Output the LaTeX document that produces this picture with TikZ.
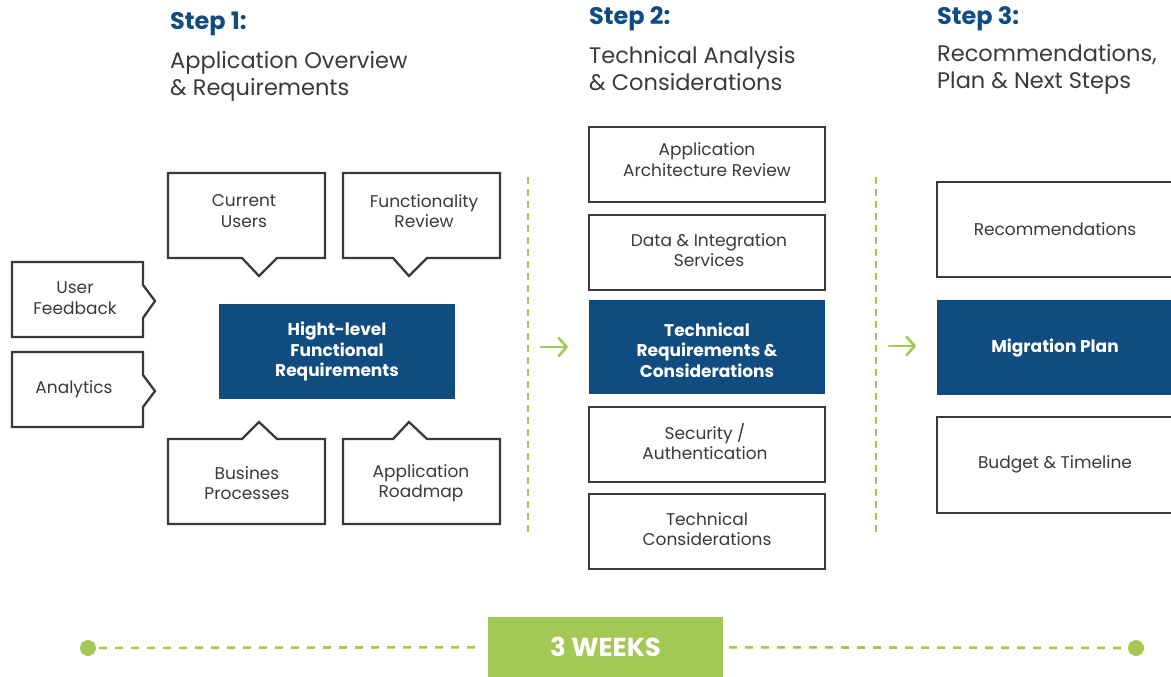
\documentclass[tikz,border=0pt]{standalone}
\usepackage{fontspec}
\setmainfont{Poppins}
\usetikzlibrary{arrows.meta}
\definecolor{navy}{HTML}{114C80}
\definecolor{lime}{HTML}{A3C854}
\definecolor{ink}{HTML}{3A3A3A}
\begin{document}
\begin{tikzpicture}[x=1pt,y=-1pt,
  txt/.style={text=ink,align=center,font=\fontsize{17}{20.5}\selectfont,inner sep=0pt},
  box/.style={draw=ink,line width=2.3pt,fill=white,minimum width=236pt,minimum height=75pt},
  bluebox/.style={fill=navy,inner sep=0pt},
  btxt/.style={text=white,align=center,font=\bfseries\fontsize{17}{20.5}\selectfont,inner sep=0pt},
  outline/.style={draw=ink,line width=2.3pt,line join=miter},
  stephead/.style={anchor=west,text=navy,font=\bfseries\fontsize{24}{28}\selectfont,inner sep=0pt},
  stepsub/.style={anchor=west,text=ink,align=left,font=\fontsize{22.5}{27}\selectfont,inner sep=0pt},
  vdash/.style={draw=lime,line width=2.6pt,dash pattern=on 7pt off 5pt},
  hdash/.style={draw=lime,line width=2.6pt,dash pattern=on 8pt off 8pt},
  arr/.style={draw=lime,line width=2.6pt,line cap=round,-{Straight Barb[length=8pt,width=18pt,line width=2.6pt,round]}},
  dot/.style={circle,fill=lime,minimum size=16pt,inner sep=0pt}]
\useasboundingbox (0,0) rectangle (1171,677);
\clip (0,0) rectangle (1171,677);

% ---------- headings ----------
\node[stephead] (s1) at (170,24) {Step 1:};
\node[stepsub]  (s1t) at (170,76) {Application Overview\\\& Requirements};
\node[stephead] (s2) at (589,19) {Step 2:};
\node[stepsub]  (s2t) at (589,69) {Technical Analysis\\\& Considerations};
\node[stephead] (s3) at (937,19) {Step 3:};
\node[stepsub]  (s3t) at (937,69) {Recommendations,\\Plan \& Next Steps};

% ---------- step 1 ----------
\path[outline,fill=white] (168,173) -- (325,173) -- (325,258) -- (277,258) -- (259,276) -- (242,258) -- (168,258) -- cycle;
\node[txt] (cu) at (244,211) {Current\\Users};
\path[outline,fill=white] (343,173) -- (500,173) -- (500,258) -- (427,258) -- (409,276) -- (393,258) -- (343,258) -- cycle;
\node[txt] (fr) at (424,211) {Functionality\\Review};
\path[outline,fill=white] (168,439) -- (242,439) -- (259,422) -- (277,439) -- (325,439) -- (325,524) -- (168,524) -- cycle;
\node[txt] (bp) at (247,483) {Busines\\Processes};
\path[outline,fill=white] (343,439) -- (393,439) -- (409,422) -- (427,439) -- (500,439) -- (500,524) -- (343,524) -- cycle;
\node[txt] (ar) at (421,483) {Application\\Roadmap};
\path[outline,fill=white] (12,262) -- (143,262) -- (143,285) -- (155,301) -- (143,318) -- (143,337) -- (12,337) -- cycle;
\node[txt] (uf) at (75,298) {User\\Feedback};
\path[outline,fill=white] (12,352) -- (143,352) -- (143,375) -- (155,391) -- (143,407) -- (143,427) -- (12,427) -- cycle;
\node[txt] (an) at (74,389) {Analytics};
\node[bluebox,minimum width=236pt,minimum height=95pt] (hl) at (337,351.5) {};
\node[btxt] (hlt) at (337,351.5) {Hight-level\\Functional\\Requirements};

% ---------- separators and arrows ----------
\coordinate (v1a) at (528,177);
\coordinate (v1b) at (528,535);
\draw[vdash] (v1a) -- (v1b);
\coordinate (v2a) at (876,177);
\coordinate (v2b) at (876,535);
\draw[vdash] (v2a) -- (v2b);
\coordinate (a1s) at (541,347);
\coordinate (a1e) at (568,347);
\draw[arr] (a1s) -- (a1e);
\coordinate (a2s) at (889,346);
\coordinate (a2e) at (916,346);
\draw[arr] (a2s) -- (a2e);

% ---------- step 2 ----------
\node[box] (aar) at (707,164.5) {};
\node[txt] (aart) at (707,159.5) {Application\\Architecture Review};
\node[box] (dis) at (707,252.5) {};
\node[txt] (dist) at (709,250) {Data \& Integration\\Services};
\node[bluebox,minimum width=236pt,minimum height=94pt] (trc) at (707,347) {};
\node[btxt] (trct) at (707,350) {Technical\\Requirements \&\\Considerations};
\node[box] (sec) at (707,444.5) {};
\node[txt] (sect) at (705,441.5) {Security /\\Authentication};
\node[box] (tcn) at (707,531.5) {};
\node[txt] (tcnt) at (707,529) {Technical\\Considerations};

% ---------- step 3 ----------
\node[box,minimum width=244pt,minimum height=95pt] (rec) at (1059,229.5) {};
\node[txt] (rect) at (1055,229) {Recommendations};
\node[bluebox,minimum width=244pt,minimum height=95pt] (mp) at (1059,347.5) {};
\node[btxt] (mpt) at (1055,348) {Migration Plan};
\node[box,minimum width=244pt,minimum height=96pt] (bt) at (1059,465) {};
\node[txt] (btt) at (1055,464.5) {Budget \& Timeline};

% ---------- timeline ----------
\node[dot] (d1) at (88,648) {};
\node[dot] (d2) at (1136,648) {};
\node[fill=lime,minimum width=235pt,minimum height=60pt,inner sep=0pt,text=white,font=\bfseries\fontsize{26}{30}\selectfont] (wk) at (605.5,647) {3 WEEKS};
\draw[hdash,shorten <=3pt,shorten >=6pt] (d1) -- (wk);
\draw[hdash,shorten <=6pt,shorten >=3pt] (wk) -- (d2);
\end{tikzpicture}
\end{document}
